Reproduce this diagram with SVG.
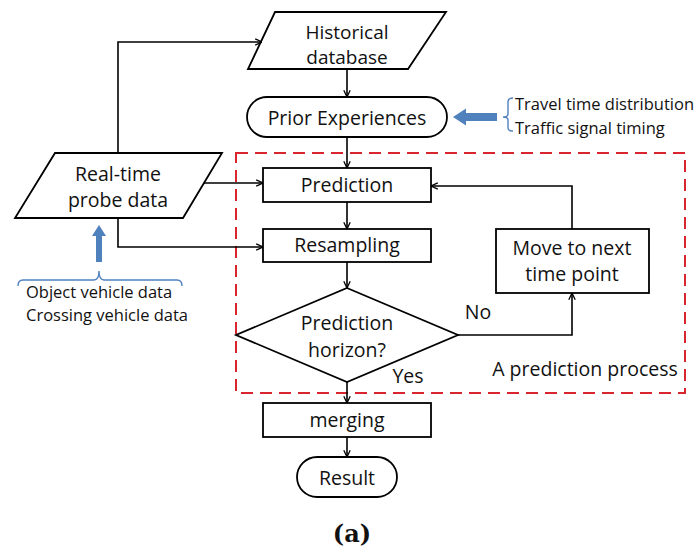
<svg xmlns="http://www.w3.org/2000/svg" width="697" height="554" viewBox="0 0 697 554">
  <defs>
    <marker id="arrow" viewBox="0 0 10 10" refX="9.5" refY="5" markerWidth="8" markerHeight="8" markerUnits="userSpaceOnUse" orient="auto">
      <polyline points="1,1 9.5,5 1,9" fill="none" stroke="#000" stroke-width="1.6"/>
    </marker>
    <style>
      .shape { fill: #fff; stroke: #000; stroke-width: 1.8; }
      .link { fill: none; stroke: #000; stroke-width: 1.6; marker-end: url(#arrow); }
      .label { font-family: "Open Sans", "Noto Sans", sans-serif; font-size: 19.5px; fill: #111; text-anchor: middle; }
      .note { font-family: "Open Sans", "Noto Sans", sans-serif; font-size: 16.5px; fill: #111; }
      .brace { fill: none; stroke: #4f81bd; stroke-width: 1.4; }
      .fat { fill: #4f81bd; stroke: none; }
    </style>
  </defs>

  <rect width="697" height="554" fill="#fff"/>

  <!-- dashed frame around the prediction loop -->
  <g id="prediction-process">
    <rect x="236" y="153" width="449" height="240" fill="none" stroke="#d9262e" stroke-width="2" stroke-dasharray="12,7"/>
    <text class="label" x="585" y="376">A prediction process</text>
  </g>

  <g id="historical-database">
    <polygon class="shape" points="275,12 446,12 408,69 248,69"/>
    <text class="label" x="347" y="39" style="font-size:19px">Historical</text>
    <text class="label" x="347" y="64" style="font-size:19px">database</text>
  </g>

  <g id="prior-experiences">
    <rect class="shape" x="247" y="97" width="200" height="40" rx="20" ry="20"/>
    <text class="label" x="347" y="125">Prior Experiences</text>
  </g>

  <g id="prior-inputs">
    <path class="fat" d="M453,117 L466,108.5 L466,113 L497,113 L497,121 L466,121 L466,125.5 Z"/>
    <path class="brace" d="M513,98 Q508,98 508,102 L508,114 Q508,117 503,117 Q508,117 508,120 L508,128 Q508,131 513,131"/>
    <text class="note" x="515" y="110">Travel time distribution</text>
    <text class="note" x="515" y="134">Traffic signal timing</text>
  </g>

  <g id="real-time-probe-data">
    <polygon class="shape" points="55,153 222,153 183,218 15,218"/>
    <text class="label" x="118" y="181">Real-time</text>
    <text class="label" x="118" y="207">probe data</text>
  </g>

  <g id="probe-inputs">
    <path class="fat" d="M99,225 L106,236 L102,236 L102,262 L96,262 L96,236 L92,236 Z"/>
    <path class="brace" d="M18,286 Q18,280 23,280 L94,280 Q99,280 99,271 Q99,280 104,280 L177,280 Q182,280 182,286"/>
    <text class="note" x="26" y="298">Object vehicle data</text>
    <text class="note" x="26" y="321">Crossing vehicle data</text>
  </g>

  <g id="prediction">
    <rect class="shape" x="263" y="168" width="168" height="34"/>
    <text class="label" x="347" y="192">Prediction</text>
  </g>

  <g id="resampling">
    <rect class="shape" x="263" y="229" width="168" height="33"/>
    <text class="label" x="347" y="252">Resampling</text>
  </g>

  <g id="move-to-next-time-point">
    <rect class="shape" x="496" y="229" width="153" height="64"/>
    <text class="label" x="572" y="255">Move to next</text>
    <text class="label" x="572" y="281">time point</text>
  </g>

  <g id="prediction-horizon">
    <polygon class="shape" points="347,288 458,335 347,382 236,335"/>
    <text class="label" x="347" y="330">Prediction</text>
    <text class="label" x="347" y="357">horizon?</text>
  </g>

  <g id="merging">
    <rect class="shape" x="263" y="403" width="168" height="34"/>
    <text class="label" x="347" y="427">merging</text>
  </g>

  <g id="result">
    <rect class="shape" x="297" y="457" width="100" height="40" rx="20" ry="20"/>
    <text class="label" x="347" y="485">Result</text>
  </g>

  <g id="connectors">
    <path class="link" d="M347,69 L347,97"/>
    <path class="link" d="M347,137 L347,168"/>
    <path class="link" d="M347,202 L347,229"/>
    <path class="link" d="M347,262 L347,288"/>
    <path class="link" d="M347,382 L347,403"/>
    <path class="link" d="M347,437 L347,457"/>
    <path class="link" d="M118,153 L118,42 L262,42"/>
    <path class="link" d="M204,183 L263,183"/>
    <path class="link" d="M118,218 L118,247 L263,247"/>
    <path class="link" d="M572,229 L572,186 L431,186"/>
    <path class="link" d="M458,335 L572,335 L572,293"/>
    <text class="label" x="478" y="319">No</text>
    <text class="label" x="408" y="383">Yes</text>
  </g>

  <text x="352" y="542" font-family="'DejaVu Serif', 'Liberation Serif', serif" font-weight="bold" font-size="24" text-anchor="middle" fill="#111">(a)</text>
</svg>
